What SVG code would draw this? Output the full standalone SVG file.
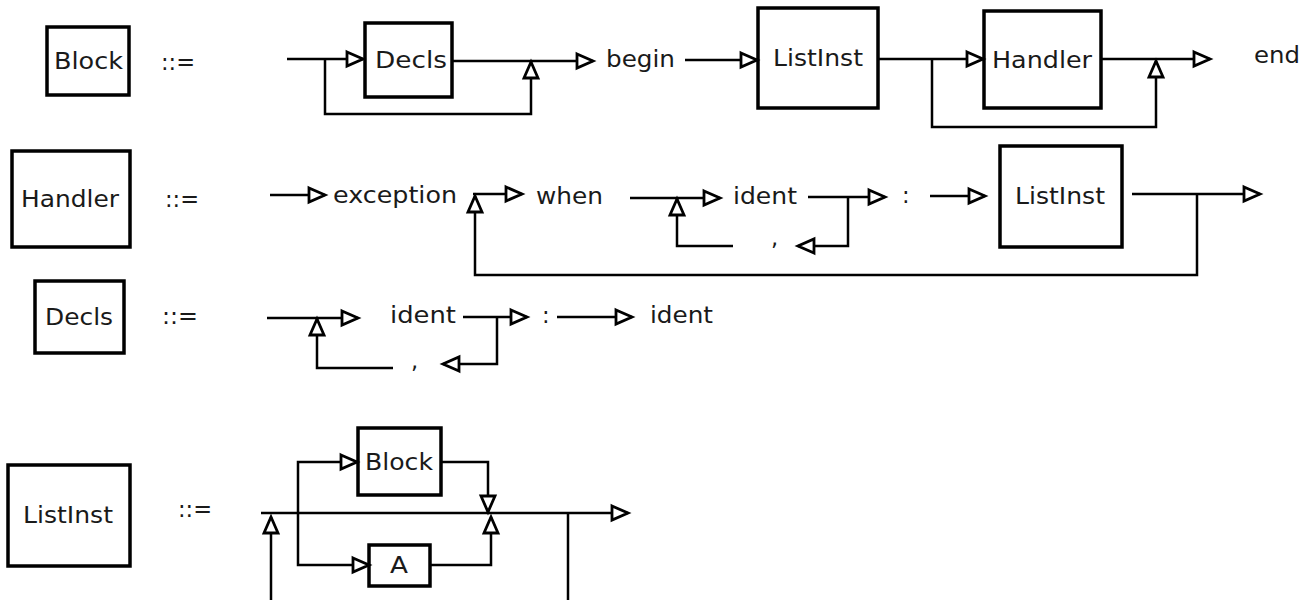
<svg xmlns="http://www.w3.org/2000/svg" width="1314" height="600" viewBox="0 0 1314 600">
  <style>
    .box { fill: #fff; stroke: #000; stroke-width: 3.5; }
    .wire { fill: none; stroke: #000; stroke-width: 2.5; }
    .arr { marker-end: url(#tri); }
    text { font-family: "DejaVu Sans", "Liberation Sans", sans-serif; font-size: 22.5px; fill: #1a1a1a; }
  </style>
  <defs>
    <marker id="tri" markerUnits="userSpaceOnUse" markerWidth="20" markerHeight="18" refX="16" refY="7" orient="auto" overflow="visible">
      <path d="M0,0 L16,7 L0,14 Z" fill="#fff" stroke="#000" stroke-width="2.8" stroke-linejoin="miter"/>
    </marker>
  </defs>
  <rect width="1314" height="600" fill="#fff"/>

  <!-- Block ::= ... -->
  <g id="block-def">
    <rect class="box" x="47" y="27" width="82" height="68"/>
    <text x="54" y="69" textLength="69" lengthAdjust="spacingAndGlyphs">Block</text>
    <text x="161" y="70" textLength="34" lengthAdjust="spacingAndGlyphs">::=</text>
  </g>
  <g id="block-decls">
    <rect class="box" x="365" y="23" width="87" height="74"/>
    <text x="375" y="68" textLength="72" lengthAdjust="spacingAndGlyphs">Decls</text>
  </g>
  <g id="block-begin"><text x="606" y="67" textLength="69" lengthAdjust="spacingAndGlyphs">begin</text></g>
  <g id="block-listinst">
    <rect class="box" x="758" y="8" width="120" height="100"/>
    <text x="773" y="66" textLength="90" lengthAdjust="spacingAndGlyphs">ListInst</text>
  </g>
  <g id="block-handler">
    <rect class="box" x="984" y="11" width="117" height="97"/>
    <text x="992" y="68" textLength="100" lengthAdjust="spacingAndGlyphs">Handler</text>
  </g>
  <g id="block-end"><text x="1254" y="63" textLength="46" lengthAdjust="spacingAndGlyphs">end</text></g>

  <!-- Handler ::= ... -->
  <g id="handler-def">
    <rect class="box" x="12" y="151" width="118" height="96"/>
    <text x="21" y="207" textLength="98" lengthAdjust="spacingAndGlyphs">Handler</text>
    <text x="165" y="207" textLength="34" lengthAdjust="spacingAndGlyphs">::=</text>
  </g>
  <g id="handler-exception"><text x="333" y="203" textLength="124" lengthAdjust="spacingAndGlyphs">exception</text></g>
  <g id="handler-when"><text x="536" y="204" textLength="67" lengthAdjust="spacingAndGlyphs">when</text></g>
  <g id="handler-ident"><text x="733" y="204" textLength="64" lengthAdjust="spacingAndGlyphs">ident</text></g>
  <g id="handler-comma"><text x="771" y="245">,</text></g>
  <g id="handler-colon"><text x="902" y="203">:</text></g>
  <g id="handler-listinst">
    <rect class="box" x="1000" y="146" width="122" height="101"/>
    <text x="1015" y="204" textLength="90" lengthAdjust="spacingAndGlyphs">ListInst</text>
  </g>

  <!-- Decls ::= ... -->
  <g id="decls-def">
    <rect class="box" x="35" y="281" width="89" height="72"/>
    <text x="45" y="325" textLength="68" lengthAdjust="spacingAndGlyphs">Decls</text>
    <text x="162" y="324" textLength="36" lengthAdjust="spacingAndGlyphs">::=</text>
  </g>
  <g id="decls-ident"><text x="390" y="323" textLength="66" lengthAdjust="spacingAndGlyphs">ident</text></g>
  <g id="decls-comma"><text x="411" y="368">,</text></g>
  <g id="decls-colon"><text x="542" y="323">:</text></g>
  <g id="decls-type"><text x="650" y="323" textLength="63" lengthAdjust="spacingAndGlyphs">ident</text></g>

  <!-- ListInst ::= ... -->
  <g id="listinst-def">
    <rect class="box" x="8" y="465" width="122" height="101"/>
    <text x="23" y="523" textLength="90" lengthAdjust="spacingAndGlyphs">ListInst</text>
    <text x="178" y="517" textLength="34" lengthAdjust="spacingAndGlyphs">::=</text>
  </g>
  <g id="listinst-block">
    <rect class="box" x="358" y="428" width="83" height="67"/>
    <text x="365" y="470" textLength="68" lengthAdjust="spacingAndGlyphs">Block</text>
  </g>
  <g id="listinst-a">
    <rect class="box" x="369" y="545" width="61" height="41"/>
    <text x="390" y="573" textLength="18" lengthAdjust="spacingAndGlyphs">A</text>
  </g>

  <g id="connectors">
    <!-- Block rule -->
    <path class="wire arr" d="M287,59 H363"/>
    <path class="wire arr" d="M325,59 V114 H531 V62"/>
    <path class="wire arr" d="M452,61 H593"/>
    <path class="wire arr" d="M685,60 H757"/>
    <path class="wire arr" d="M878,59 H983"/>
    <path class="wire arr" d="M932,59 V127 H1156 V61"/>
    <path class="wire arr" d="M1101,59 H1210"/>
    <!-- Handler rule -->
    <path class="wire arr" d="M270,195 H325"/>
    <path class="wire arr" d="M473,194 H522"/>
    <path class="wire arr" d="M1197,194 V275 H475 V196"/>
    <path class="wire arr" d="M630,198 H720"/>
    <path class="wire arr" d="M733,246 H677 V199"/>
    <path class="wire arr" d="M808,197 H885"/>
    <path class="wire arr" d="M848,197 V246 H798"/>
    <path class="wire arr" d="M930,196 H985"/>
    <path class="wire arr" d="M1132,194 H1260"/>
    <!-- Decls rule -->
    <path class="wire arr" d="M267,318 H358"/>
    <path class="wire arr" d="M393,368 H317 V319"/>
    <path class="wire arr" d="M463,317 H527"/>
    <path class="wire arr" d="M497,317 V364 H443"/>
    <path class="wire arr" d="M557,317 H632"/>
    <!-- ListInst rule -->
    <path class="wire arr" d="M261,513 H628"/>
    <path class="wire arr" d="M271,600 V517"/>
    <path class="wire arr" d="M298,513 V462 H357"/>
    <path class="wire arr" d="M298,513 V565 H369"/>
    <path class="wire arr" d="M441,462 H488 V512"/>
    <path class="wire arr" d="M430,565 H491 V517"/>
    <path class="wire" d="M568,513 V600"/>
  </g>
</svg>
